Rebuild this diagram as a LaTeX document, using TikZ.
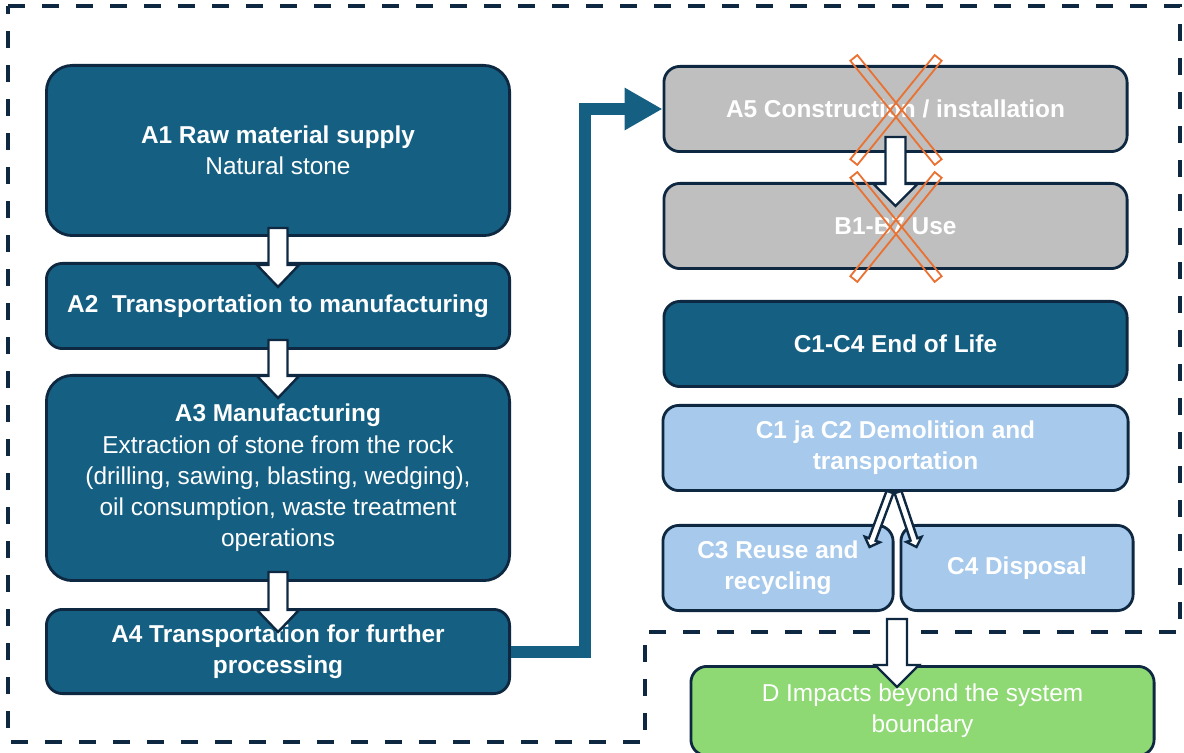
\documentclass[tikz,border=0pt]{standalone}
\usepackage{fontspec}
\setmainfont{Liberation Sans}
\usetikzlibrary{positioning,calc,arrows.meta}

\definecolor{petrol}{HTML}{156082}
\definecolor{navy}{HTML}{0E2841}
\definecolor{greybox}{HTML}{BFBFBF}
\definecolor{skyblue}{HTML}{A6C9EC}
\definecolor{leaf}{HTML}{8ED973}
\definecolor{crossorange}{HTML}{E97132}

\tikzset{
  stage/.style={rectangle,rounded corners=8pt,draw=navy,line width=1.4pt,fill=petrol,text=white,
    minimum width=231.6pt,minimum height=42.6pt,align=center,inner sep=2pt,
    font=\fontsize{12.2}{15.6}\selectfont},
  bigstage/.style={stage,rounded corners=13pt},
  dropped/.style={stage,fill=greybox},
  eol/.style={stage,fill=skyblue},
  halfstage/.style={eol,minimum width=115.1pt},
  beyond/.style={stage,fill=leaf},
  blockarr/.style={draw=navy,fill=white,line width=1.2pt,line join=miter},
  crossbar/.style={rectangle,draw=crossorange,line width=0.9pt,minimum width=67pt,minimum height=4.5pt,inner sep=0pt},
  boundary/.style={draw=navy,line width=2pt,dash pattern=on 8.5pt off 8.5pt},
  feed/.style={draw=petrol,line width=6pt,-{Triangle[length=19pt,width=20pt]}}
}

% start, tip, shaft half width, head half width, head length
\newcommand{\flowarrow}[5]{%
  \coordinate (hb) at ($(#2)!#5!(#1)$);
  \draw[blockarr] ($(#1)!#3!90:(#2)$) -- ($(hb)!#3!90:(#2)$) -- ($(hb)!#4!90:(#2)$) -- (#2)
    -- ($(hb)!#4!-90:(#2)$) -- ($(hb)!#3!-90:(#2)$) -- ($(#1)!#3!-90:(#2)$) -- cycle;}

\begin{document}
\begin{tikzpicture}[x=0.5pt,y=-0.5pt]
\useasboundingbox (0,0) rectangle (1184,753);
\clip (0,0) rectangle (1184,753);

% system boundary
\draw[boundary] (8,6) -- (1180,6) -- (1180,632) -- (645,632) -- (645,742) -- (8,742) -- cycle;

% A1-A4
\node[bigstage,minimum height=85.1pt] (A1) at (278,150.5) {\textbf{A1 Raw material supply}\\Natural stone};
\node[stage] (A2) [below=12.5pt of A1] {\textbf{A2~~Transportation to manufacturing}};
\node[bigstage,minimum height=102.6pt] (A3) [below=12pt of A2] {\textbf{A3 Manufacturing}\\Extraction of stone from the rock\\(drilling, sawing, blasting, wedging),\\oil consumption, waste treatment\\operations};
\node[stage,minimum height=42.1pt] (A4) [below=13pt of A3] {\textbf{A4 Transportation for further}\\\textbf{processing}};

% A5, B, C, D
\node[dropped] (A5) at (895.5,109) {\textbf{A5 Construction / installation}};
\node[dropped] (B1) [below=14.5pt of A5] {\textbf{B1-B7 Use}};
\node[stage] (C14) [below=15pt of B1] {\textbf{C1-C4 End of Life}};
\node[eol,minimum width=232.6pt] (C12) [below=8pt of C14] {\textbf{C1 ja C2 Demolition and}\\\textbf{transportation}};
\node[halfstage] (C3) [below=16pt of C12.south west,anchor=north west] {\textbf{C3 Reuse and}\\\textbf{recycling}};
\node[halfstage,minimum width=116.1pt] (C4) [right=2.5pt of C3] {\textbf{C4 Disposal}};
\node[beyond,minimum height=44.6pt] (D) at (922.5,711) {D Impacts beyond the system\\boundary};
\coordinate (CD) at ($(C3.south east)!0.5!(C4.south west)$);

% connectors
\draw[feed] (A4.east) -- ++(74,0) |- (A5.west);
\flowarrow{[yshift=4.5pt]A1.south}{[yshift=-12.5pt]A2.north}{4.75pt}{10.5pt}{11pt}
\flowarrow{[yshift=5pt]A2.south}{[yshift=-12pt]A3.north}{4.75pt}{10.5pt}{11pt}
\flowarrow{[yshift=5pt]A3.south}{[yshift=-12pt]A4.north}{4.75pt}{10.5pt}{11pt}
\flowarrow{[yshift=8pt]A5.south}{[yshift=-12pt]B1.north}{5pt}{11pt}{11pt}
\flowarrow{[xshift=-2.75pt]C12.south}{[xshift=-12.5pt,yshift=-11.5pt]C3.north east}{1.8pt}{4pt}{4pt}
\flowarrow{[xshift=1.25pt]C12.south}{[xshift=8.5pt,yshift=-11.5pt]C4.north west}{1.8pt}{4pt}{4pt}
\flowarrow{[yshift=-3.5pt]CD}{[yshift=-11pt]CD |- D.north}{5pt}{11pt}{11pt}

% crossed out stages
\node[crossbar,rotate=-51] (X1a) at (896,110) {};
\node[crossbar,rotate=51] (X1b) at (896,110) {};
\node[crossbar,rotate=-51] (X2a) at (896,227) {};
\node[crossbar,rotate=51] (X2b) at (896,227) {};
\end{tikzpicture}
\end{document}
